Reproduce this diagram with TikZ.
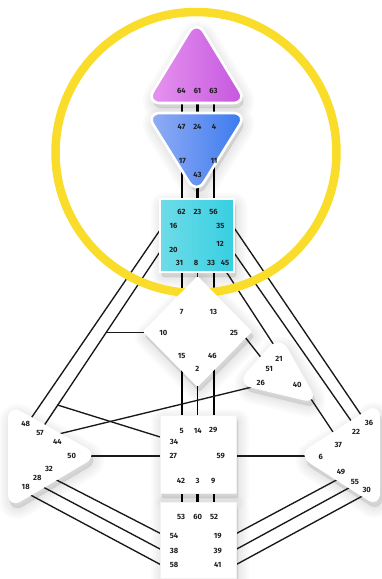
\documentclass[tikz,border=0pt]{standalone}
\usepackage{fontspec}
\setmainfont{Fira Sans}
\definecolor{ringc}{RGB}{250,221,42}
\definecolor{ink}{RGB}{30,30,30}
\definecolor{hdL}{RGB}{232,150,240}
\definecolor{hdR}{RGB}{196,84,222}
\definecolor{ajL}{RGB}{150,175,245}
\definecolor{ajR}{RGB}{55,120,238}
\definecolor{thL}{RGB}{110,220,232}
\definecolor{thR}{RGB}{55,207,226}
\newcommand\shadowof[2][10pt]{\foreach \w in {22,18,14,10,6,2}{\path[fill=black,draw=black,fill opacity=0.016,draw opacity=0.016,line width=\w pt,line join=round,rounded corners=#1,shift={(2,5)}] #2;}}
\begin{document}
\begin{tikzpicture}[x=1pt,y=-1pt,
  lbl/.style={font=\fontsize{7.6}{8}\selectfont\bfseries, text=ink, inner sep=0pt},
  chan/.style={line width=1.35pt, draw=black!90},
  thickchan/.style={line width=3.6pt, draw=black},
  midchan/.style={line width=1.8pt, draw=black},
  stub/.style={line width=2.6pt, draw=black}]
\useasboundingbox (0,0) rectangle (381,579);
\fill[white] (0,0) rectangle (381,579);
\def\headP{(196.5,20) -- (247,103) -- (146,103) -- cycle}
\def\ajnaP{(146,113) -- (247,113) -- (196.5,194) -- cycle}
\def\throatP{(160,199) rectangle (234,272)}
\def\gP{(197.5,276) -- (252,331.5) -- (197.5,387) -- (143,331.5) -- cycle}
\def\heartP{(280,335) -- (319,404) -- (236,384) -- cycle}
\def\spleenP{(8,404) -- (99,455) -- (8,509) -- cycle}
\def\spP{(380,402) -- (297,455) -- (380,508) -- cycle}
\def\sacralP{(160,415) rectangle (236,493)}
\def\rootP{(160,502) rectangle (236,578)}
% shadows
\shadowof[14pt]{\headP}
\shadowof[14pt]{\ajnaP}
\shadowof[2pt]{\throatP}
\shadowof[2pt]{\gP}
\shadowof[16pt]{\heartP}
\shadowof[15pt]{\spleenP}
\shadowof[15pt]{\spP}
\shadowof[1pt]{\sacralP}
\shadowof[1pt]{\rootP}
% channel end points
\coordinate (ha1t) at (182.3,98);  \coordinate (ha1b) at (182.3,118);
\coordinate (ha2t) at (197.5,98);  \coordinate (ha2b) at (197.5,118);
\coordinate (ha3t) at (214,98);    \coordinate (ha3b) at (214,118);
\coordinate (at1t) at (182.3,160); \coordinate (at1b) at (182.3,202);
\coordinate (at2t) at (197.5,180); \coordinate (at2b) at (197.5,202);
\coordinate (at3t) at (214,160);   \coordinate (at3b) at (214,202);
\coordinate (tg1t) at (182,268);   \coordinate (tg1b) at (182,300);
\coordinate (tg2t) at (197.5,268); \coordinate (tg2b) at (197.5,285);
\coordinate (tg3t) at (214,268);   \coordinate (tg3b) at (214,300);
\coordinate (gs1t) at (182,360);   \coordinate (gs1b) at (182,420);
\coordinate (gs2t) at (197.5,380); \coordinate (gs2b) at (197.5,420);
\coordinate (gs3t) at (214,360);   \coordinate (gs3b) at (214,420);
\coordinate (sr1t) at (182,490);   \coordinate (sr1b) at (182,505);
\coordinate (sr2t) at (197.5,490); \coordinate (sr2b) at (197.5,505);
\coordinate (sr3t) at (214,490);   \coordinate (sr3b) at (214,505);
\coordinate (c16) at (166.2,221);  \coordinate (c48) at (24.4,428);
\coordinate (c20) at (165.5,243.5); \coordinate (c57) at (36.8,436.5);
\coordinate (c10a) at (106.5,332.5); \coordinate (c10) at (150,332.5);
\coordinate (c57b) at (57.5,405);  \coordinate (c34) at (165,438.5);
\coordinate (c44) at (60,433.7);   \coordinate (c26) at (262,384.6);
\coordinate (c50) at (85,456);     \coordinate (c27) at (165,456);
\coordinate (c35) at (225.7,215.5); \coordinate (c36) at (366.3,422.6);
\coordinate (c12) at (227.5,243.5); \coordinate (c22) at (354,425);
\coordinate (c45) at (221.3,264.2); \coordinate (c21) at (279.7,353.9);
\coordinate (c25) at (240,330.7);  \coordinate (c51) at (266,363.8);
\coordinate (c40) at (303,387);    \coordinate (c37) at (335,435);
\coordinate (c59) at (230,456);    \coordinate (c6) at (310,456);
\coordinate (c32) at (51.9,477.6); \coordinate (c54) at (165,535.8);
\coordinate (c28) at (41.2,486);   \coordinate (c38) at (165.5,551.9);
\coordinate (c18) at (21.9,490.4); \coordinate (c58) at (166.2,567.6);
\coordinate (c19) at (231.9,535.9); \coordinate (c49) at (341,477.6);
\coordinate (c39) at (231.3,552);  \coordinate (c55) at (353.7,485.3);
\coordinate (c41) at (230.6,567.6); \coordinate (c30) at (368,493);
% channels
\draw[midchan] (ha1t) -- (ha1b); \draw[thickchan] (ha2t) -- (ha2b); \draw[midchan] (ha3t) -- (ha3b);
\draw[midchan] (at1t) -- (at1b); \draw[thickchan] (at2t) -- (at2b); \draw[midchan] (at3t) -- (at3b);
\draw[midchan] (tg1t) -- (tg1b); \draw[chan] (tg2t) -- (tg2b); \draw[midchan] (tg3t) -- (tg3b);
\draw[midchan] (gs1t) -- (gs1b); \draw[midchan] (gs2t) -- (gs2b); \draw[midchan] (gs3t) -- (gs3b);
\draw[stub] (sr1t) -- (sr1b); \draw[stub] (sr2t) -- (sr2b); \draw[stub] (sr3t) -- (sr3b);
\draw[chan] (c16) -- (c48);
\draw[chan] (c20) -- (c57);
\draw[chan] (c10a) -- (c10);
\draw[chan] (c57b) -- (c34);
\draw[chan] (c44) -- (c26);
\draw[chan] (c50) -- (c27);
\draw[chan] (c35) -- (c36);
\draw[chan] (c12) -- (c22);
\draw[chan] (c45) -- (c21);
\draw[chan] (c25) -- (c51);
\draw[chan] (c40) -- (c37);
\draw[chan] (c59) -- (c6);
\draw[chan] (c32) -- (c54);
\draw[chan] (c28) -- (c38);
\draw[chan] (c18) -- (c58);
\draw[chan] (c19) -- (c49);
\draw[chan] (c39) -- (c55);
\draw[chan] (c41) -- (c30);
% yellow ring
\draw[ringc, line width=8.5pt] (196,152.5) circle[radius=140.5];
% centres
\path[draw=white, line width=2.6pt, left color=hdL, right color=hdR, rounded corners=14pt] \headP;
\path[draw=white, line width=2.6pt, left color=ajL, right color=ajR, rounded corners=14pt] \ajnaP;
\path[draw=white, line width=2.8pt, left color=thL, right color=thR] \throatP;
\path[fill=white, rounded corners=1.5pt] \gP;
\path[fill=white, rounded corners=16pt] \heartP;
\path[fill=white, rounded corners=15pt] \spleenP;
\path[fill=white, rounded corners=15pt] \spP;
\path[fill=white, draw=black!5, line width=0.4pt] \sacralP;
\path[fill=white, draw=black!5, line width=0.4pt] \rootP;
% labels: head
\node[lbl] (g64) at (181.5,91) {64};
\node[lbl] (g61) at (197.5,91) {61};
\node[lbl] (g63) at (213.5,91) {63};
% ajna
\node[lbl] (g47) at (181.5,127) {47};
\node[lbl] (g24) at (197.5,127) {24};
\node[lbl] (g4) at (214,127) {4};
\node[lbl] (g17) at (182.5,161) {17};
\node[lbl] (g11) at (214,161) {11};
\node[lbl] (g43) at (197.5,175) {43};
% throat
\node[lbl] (g62) at (181.5,212) {62};
\node[lbl] (g23) at (197.5,212) {23};
\node[lbl] (g56) at (213.5,212) {56};
\node[lbl] (g16) at (173.5,225.5) {16};
\node[lbl] (g35) at (220.5,225.5) {35};
\node[lbl] (g12) at (220,244) {12};
\node[lbl] (g20) at (173.5,249.5) {20};
\node[lbl] (g31) at (179.5,262.5) {31};
\node[lbl] (g8) at (196,262.5) {8};
\node[lbl] (g33) at (211,262.5) {33};
\node[lbl] (g45) at (225,262.5) {45};
% G
\node[lbl] (g7) at (181.7,311.7) {7};
\node[lbl] (g13) at (213.3,311.7) {13};
\node[lbl] (g10) at (163.3,332.7) {10};
\node[lbl] (g25) at (234,332.7) {25};
\node[lbl] (g15) at (181.7,356) {15};
\node[lbl] (g46) at (212.3,356) {46};
\node[lbl] (g2) at (197.3,368.7) {2};
% heart
\node[lbl] (g21) at (279,359) {21};
\node[lbl] (g51) at (269.3,369) {51};
\node[lbl] (g26) at (260.7,382.7) {26};
\node[lbl] (g40) at (297.3,385.3) {40};
% spleen
\node[lbl] (g48) at (25.7,424) {48};
\node[lbl] (g57) at (40,433.3) {57};
\node[lbl] (g44) at (57.3,442.3) {44};
\node[lbl] (g50) at (71.7,456) {50};
\node[lbl] (g32) at (49,469.3) {32};
\node[lbl] (g28) at (37.3,477.7) {28};
\node[lbl] (g18) at (25.7,487.3) {18};
% solar plexus
\node[lbl] (g36) at (369,422.7) {36};
\node[lbl] (g22) at (356,432.3) {22};
\node[lbl] (g37) at (338.3,445) {37};
\node[lbl] (g6) at (320.7,456.7) {6};
\node[lbl] (g49) at (341,471.7) {49};
\node[lbl] (g55) at (355,481.7) {55};
\node[lbl] (g30) at (366.7,490) {30};
% sacral
\node[lbl] (g5) at (181.7,430.7) {5};
\node[lbl] (g14) at (197.7,430.7) {14};
\node[lbl] (g29) at (213.3,430.3) {29};
\node[lbl] (g34) at (174,441.7) {34};
\node[lbl] (g27) at (173.3,456) {27};
\node[lbl] (g59) at (220.7,456) {59};
\node[lbl] (g42) at (181,480.7) {42};
\node[lbl] (g3) at (197.7,480.7) {3};
\node[lbl] (g9) at (213.3,480.7) {9};
% root
\node[lbl] (g53) at (181,516.7) {53};
\node[lbl] (g60) at (197.7,516.7) {60};
\node[lbl] (g52) at (214,516.7) {52};
\node[lbl] (g54) at (174,536) {54};
\node[lbl] (g19) at (217.7,536) {19};
\node[lbl] (g38) at (174,551) {38};
\node[lbl] (g39) at (217.7,551) {39};
\node[lbl] (g58) at (174,565) {58};
\node[lbl] (g41) at (217.7,565) {41};
\end{tikzpicture}
\end{document}
